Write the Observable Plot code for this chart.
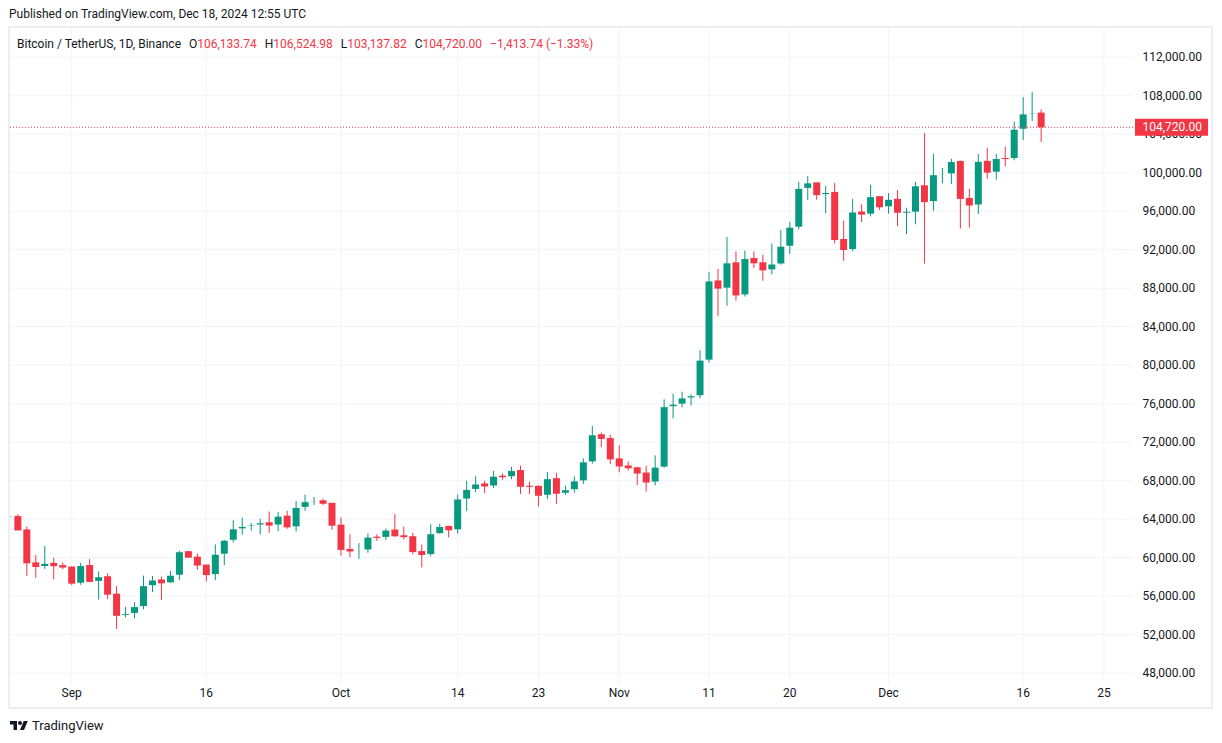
<!DOCTYPE html>
<html><head><meta charset="utf-8">
<script src="https://cdn.jsdelivr.net/npm/d3@7"></script>
<script src="https://cdn.jsdelivr.net/npm/@observablehq/plot@0.6"></script>
<style>
html,body{margin:0;padding:0;background:#fff}
body{width:1222px;height:743px;position:relative;overflow:hidden;font-family:Roboto,"Liberation Sans",sans-serif;color:#131722}
#pub{position:absolute;left:9px;top:6px;font-size:12px;line-height:16px;white-space:nowrap}
#pane{position:absolute;left:8px;top:26px;width:1201px;height:679px;border:2px solid #eceef2}
#chart{position:absolute;left:0;top:0}
#legend{position:absolute;left:7px;top:8px;font-size:12px;line-height:16px;white-space:nowrap}
#legend .v{color:#f23645}
#legend .g{margin-left:8px}
#logo{position:absolute;left:10px;top:718px;display:flex;align-items:center;font-size:13px;color:#131722}
#logo svg{margin-right:4px}
</style></head>
<body>
<div id="pub">Published on TradingView.com, Dec 18, 2024 12:55 UTC</div>
<div id="pane"><div id="chart"></div><div id="legend"></div></div>
<div id="logo"><svg width="18" height="14" viewBox="0 0 36 28"><path fill="#131722" d="M14 22H7V11H0V4h14v18zM28 22h-8l7.5-18h8L28 22z"/><circle fill="#131722" cx="20" cy="8" r="4"/></svg><span>TradingView</span></div>
<script>
const dates = ["2024-08-25","2024-08-26","2024-08-27","2024-08-28","2024-08-29","2024-08-30","2024-08-31",
"2024-09-01","2024-09-02","2024-09-03","2024-09-04","2024-09-05","2024-09-06","2024-09-07","2024-09-08","2024-09-09","2024-09-10",
"2024-09-11","2024-09-12","2024-09-13","2024-09-14","2024-09-15","2024-09-16","2024-09-17","2024-09-18","2024-09-19","2024-09-20",
"2024-09-21","2024-09-22","2024-09-23","2024-09-24","2024-09-25","2024-09-26","2024-09-27","2024-09-28","2024-09-29","2024-09-30",
"2024-10-01","2024-10-02","2024-10-03","2024-10-04","2024-10-05","2024-10-06","2024-10-07","2024-10-08","2024-10-09","2024-10-10",
"2024-10-11","2024-10-12","2024-10-13","2024-10-14","2024-10-15","2024-10-16","2024-10-17","2024-10-18","2024-10-19","2024-10-20",
"2024-10-21","2024-10-22","2024-10-23","2024-10-24","2024-10-25","2024-10-26","2024-10-27","2024-10-28","2024-10-29","2024-10-30","2024-10-31",
"2024-11-01","2024-11-02","2024-11-03","2024-11-04","2024-11-05","2024-11-06","2024-11-07","2024-11-08","2024-11-09","2024-11-10",
"2024-11-11","2024-11-12","2024-11-13","2024-11-14","2024-11-15","2024-11-16","2024-11-17","2024-11-18","2024-11-19","2024-11-20",
"2024-11-21","2024-11-22","2024-11-23","2024-11-24","2024-11-25","2024-11-26","2024-11-27","2024-11-28","2024-11-29","2024-11-30",
"2024-12-01","2024-12-02","2024-12-03","2024-12-04","2024-12-05","2024-12-06","2024-12-07","2024-12-08","2024-12-09","2024-12-10",
"2024-12-11","2024-12-12","2024-12-13","2024-12-14","2024-12-15","2024-12-16","2024-12-17","2024-12-18"];
const open = [64157,64220,62834,59415,59034,59359,59123,
58973,57301,59132,57487,57970,56160,53962,54160,54869,57042,
57635,57338,58127,60571,60005,59182,58192,60308,61759,62947,
63201,63348,63578,63339,64262,63152,65173,65769,65858,65602,
63327,60805,60649,60752,62086,62058,62819,62224,62131,60582,
60275,62445,63193,62852,66047,67041,67612,67399,68418,68362,
69002,67367,67362,66432,68161,66642,67014,67929,69907,72720,72339,
70215,69482,69289,68741,67811,69359,75639,75904,76545,76778,
80474,88701,87955,90584,87250,91031,90586,89855,90464,92310,
94286,98317,98892,97672,97900,93010,91965,95863,95643,97460,
96407,97185,95840,95849,98587,96945,99740,99831,101109,97276,
96593,101125,100004,101424,101420,104463,106058,106133.74];
const high = [65000,64481,63212,60234,61166,59944,59462,
59054,59425,59809,58519,58327,56995,54850,55318,58088,58044,
57981,58588,60676,60656,60380,59210,61320,61786,63850,64133,
63559,64000,64745,64688,64817,65839,66498,66260,66076,65618,
64130,62370,61470,62484,62370,62975,64478,63200,62543,61320,
63417,63480,63285,66500,67950,68425,67939,68969,68694,69400,
69520,67836,67472,68850,68771,67454,68388,70270,73620,72961,72700,
71632,69953,69387,69493,70577,76400,76999,77199,76932,81500,
89604,89956,93265,91765,91850,91779,91449,92594,94002,94831,
98988,99588,98908,98564,98871,94973,97208,96650,98693,97463,
97836,98130,96305,99000,104088,101898,100439,101400,101215,98270,
101888,102540,101895,102650,105250,107793,108353,106524.98];
const low = [63773,62800,58034,57860,58786,57701,58744,
57118,57128,57415,55606,55643,52550,53745,53629,54591,56386,
55546,57324,57632,59955,58697,57493,57610,59174,61555,62350,
62758,62357,62538,62700,62947,62670,64819,65422,65432,62857,
60164,60000,59828,60459,61689,61798,62128,61860,60300,58946,
60088,62445,62050,62457,64800,66750,66666,67177,68038,68100,
66572,66571,65260,66048,65520,66468,66701,67618,69730,71436,69685,
68820,68989,67478,66803,67458,69298,74414,75567,75773,76492,
80216,85072,86127,86668,87073,90057,88722,89376,90400,91500,
94040,97122,97136,95734,92600,90791,91792,94827,95407,96092,
95693,94395,93578,94587,90500,95981,98844,98771,94150,94256,
95658,99311,99205,100610,101237,103333,105321,103137.82];
const close = [64220,62834,59415,59034,59359,59123,58973,
57301,59132,57487,57970,56160,53962,54160,54869,57042,57635,
57338,58127,60571,60005,59182,58192,60308,61759,62947,63201,
63348,63578,63339,64262,63152,65173,65769,65858,65602,63327,
60805,60649,60752,62086,62058,62819,62224,62131,60582,60275,
62445,63193,62852,66047,67041,67612,67399,68418,68362,69002,
67367,67362,66432,68161,66642,67014,67929,69907,72720,72339,70215,
69482,69289,68741,67811,69359,75639,75904,76545,76778,80474,
88701,87955,90584,87250,91031,90586,89855,90464,92310,94286,
98317,98892,97672,97900,93010,91965,95863,95643,97460,96407,
97185,95840,95849,98587,96945,99740,99831,101109,97276,96593,
101125,100004,101424,101420,104463,106058,106133.74,104720.00];
const yTicks = [48000,52000,56000,60000,64000,68000,72000,76000,80000,84000,88000,92000,96000,100000,104000,108000,112000];
const xTickDates = ["2024-09-01","2024-09-16","2024-10-01","2024-10-14","2024-10-23","2024-11-01","2024-11-11","2024-11-20","2024-12-01","2024-12-16","2024-12-25"];
const xTickLabels = ["Sep","16","Oct","14","23","Nov","11","20","Dec","16","25"];
const symbolName = "Bitcoin / TetherUS, 1D, Binance";

const UP = "#089981", DOWN = "#f23645";
const toDate = s => new Date(s + "T00:00:00Z");
const data = dates.map((d, i) => ({date: toDate(d), o: open[i], h: high[i], l: low[i], c: close[i]}));
const n = data.length;
const last = data[n - 1], prev = data[n - 2];
const fmt = d3.format(",.2f");
const col = d => d.c >= d.o ? UP : DOWN;
const tickDates = xTickDates.map(toDate);
const labelMap = new Map(tickDates.map((d, i) => [+d, xTickLabels[i]]));
const DAY = 864e5, sep1 = Date.UTC(2024, 8, 1);

const chart = Plot.plot({
  width: 1201, height: 679,
  marginLeft: 0, marginRight: 78, marginTop: 0, marginBottom: 22,
  style: {fontFamily: "Roboto, 'Liberation Sans', sans-serif", fontSize: "12px", color: "#131722", background: "transparent", overflow: "visible"},
  x: {type: "utc", domain: [new Date(sep1 - 6.818 * DAY), new Date(sep1 + 118.29 * DAY)], label: null},
  y: {domain: [46722, 114982], label: null},
  color: {type: "identity"},
  marks: [
    Plot.ruleY(yTicks, {stroke: "#f0f3fa"}),
    Plot.ruleX(tickDates, {stroke: "#f0f3fa"}),
    Plot.ruleX(data, {x: "date", y1: "l", y2: "h", stroke: col, strokeWidth: 1, clip: true}),
    Plot.ruleX(data, {x: "date", y1: "o", y2: "c", stroke: col, strokeWidth: 7, insetTop: -0.5, insetBottom: -0.5, clip: true}),
    Plot.ruleY([last.c], {stroke: DOWN, strokeDasharray: "1,2"}),
    Plot.axisY(yTicks, {anchor: "right", tickSize: 0, tickPadding: 9, tickFormat: fmt, fontSize: 12, label: null}),
    Plot.axisX(tickDates, {anchor: "bottom", tickSize: 0, tickPadding: 3, tickFormat: d => labelMap.get(+d), fontSize: 12, label: null}),
    Plot.ruleY([last.c], {insetLeft: 1125, insetRight: -75, strokeWidth: 17, stroke: DOWN, clip: false}),
    Plot.text([last.c], {y: d => d, frameAnchor: "right", dx: 9, textAnchor: "start", text: d => fmt(d), fill: "white", fontSize: 12})
  ]
});
document.getElementById("chart").appendChild(chart);

const chg = last.c - prev.c;
const pct = chg / prev.c * 100;
const minus = v => (v < 0 ? "\u2212" : "+") + fmt(Math.abs(v));
const lg = document.getElementById("legend");
lg.innerHTML = `<span>${symbolName}</span>` +
  `<span class="g">O</span><span class="v">${fmt(last.o)}</span>` +
  `<span class="g">H</span><span class="v">${fmt(last.h)}</span>` +
  `<span class="g">L</span><span class="v">${fmt(last.l)}</span>` +
  `<span class="g">C</span><span class="v">${fmt(last.c)}</span>` +
  `<span class="g v">${minus(chg)} (${(pct < 0 ? "\u2212" : "+") + Math.abs(pct).toFixed(2)}%)</span>`;
</script>
</body></html>
